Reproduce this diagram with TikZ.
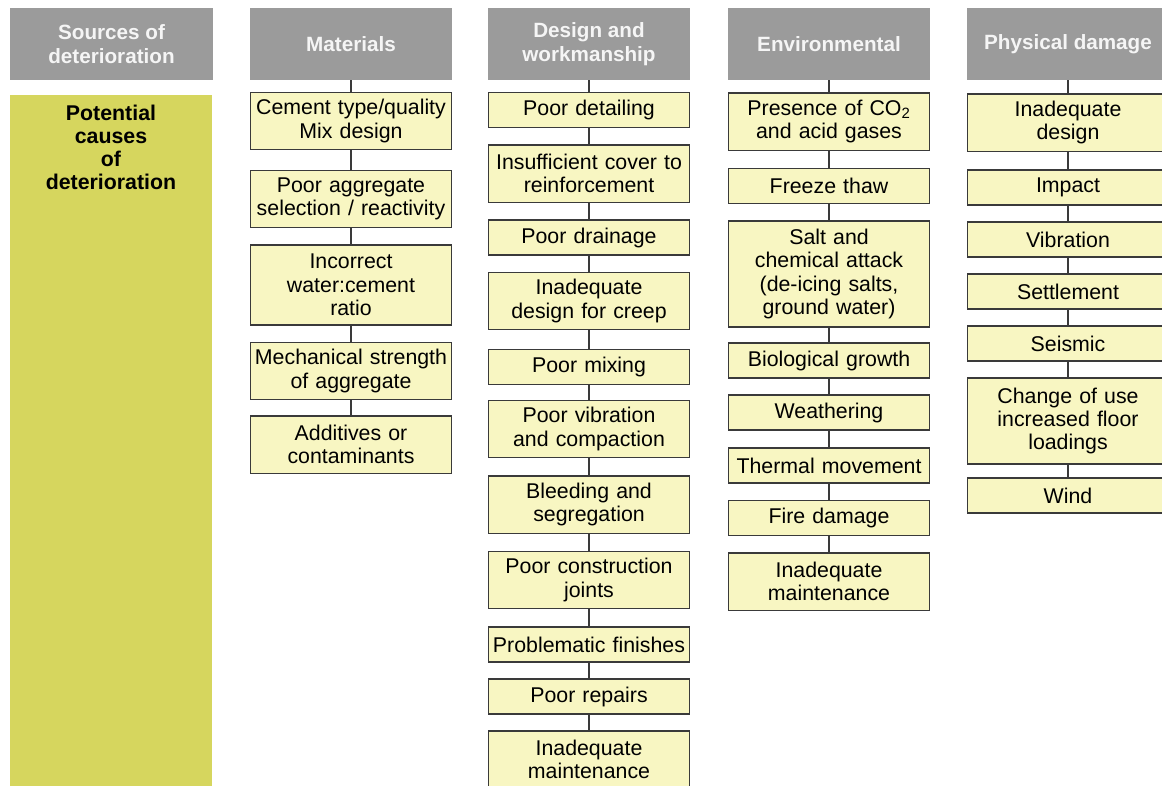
\documentclass[tikz,border=0pt]{standalone}
\usepackage{fontspec}
\setmainfont{Liberation Sans}

\definecolor{headgray}{HTML}{9B9B9B}
\definecolor{panelyellow}{HTML}{D6D65E}
\definecolor{boxyellow}{HTML}{F8F6C2}
\definecolor{edgegray}{HTML}{3A3A3A}

\tikzset{
	srchead/.style={fill=headgray, text=white!96!black, align=center,
		font=\fontsize{15.5}{18.5}\selectfont\bfseries,
		minimum width=152pt, minimum height=54pt, inner sep=0pt},
	causebox/.style={draw=edgegray, line width=1pt, fill=boxyellow, align=center,
		text width=151pt, inner xsep=0pt, inner ysep=0pt, minimum height=26.25pt},
	tallbox/.style={causebox, minimum height=43pt},
	panel/.style={fill=panelyellow, minimum width=152pt, minimum height=522pt, inner sep=0pt},
	link/.style={draw=edgegray, line width=1pt},
}

\begin{document}
\begin{tikzpicture}[x=0.75pt, y=-0.75pt, font=\fontsize{16}{17.5}\selectfont]%[show background grid]

	\useasboundingbox (0,0) rectangle (1162,785);
	\clip (0,0) rectangle (1162,785);

	% headings
	\node[srchead] (hsrc) at (111.5,44) {Sources of\\deterioration};
	\node[srchead] (hmat) at (351,44) {Materials};
	\node[srchead] (hdes) at (589,44) {Design and\\workmanship};
	\node[srchead] (henv) at (829,44) {Environmental};
	\node[srchead] (hphy) at (1068,44) {Physical damage};

	\node[panel] (panel) at (111,443) {};
	\node[font=\fontsize{16}{17.25}\selectfont\bfseries, align=center, anchor=north]
		(potential) at ([yshift=-4pt]panel.north) {Potential\\causes\\of\\deterioration};

	% materials
	\node[tallbox] (mat1) at (351,121) {Cement type/quality\\Mix design};
	\node[tallbox] (mat2) at (351,199) {Poor aggregate\\selection / reactivity};
	\node[causebox, minimum height=60pt] (mat3) at (351,285) {Incorrect\\water:cement\\ratio};
	\node[tallbox] (mat4) at (351,371) {Mechanical strength\\of aggregate};
	\node[tallbox] (mat5) at (351,444.5) {Additives or\\contaminants};

	% design and workmanship
	\node[causebox] (des1) at (589,110) {Poor detailing};
	\node[tallbox] (des2) at (589,173.5) {Insufficient cover to\\reinforcement};
	\node[causebox] (des3) at (589,237.5) {Poor drainage};
	\node[tallbox] (des4) at (589,301) {Inadequate\\design for creep};
	\node[causebox] (des5) at (589,367) {Poor mixing};
	\node[tallbox] (des6) at (589,429) {Poor vibration\\and compaction};
	\node[tallbox] (des7) at (589,504.5) {Bleeding and\\segregation};
	\node[tallbox] (des8) at (589,580) {Poor construction\\joints};
	\node[causebox] (des9) at (589,644.5) {Problematic finishes};
	\node[causebox] (des10) at (589,696.5) {Poor repairs};
	\node[tallbox] (des11) at (589,759.5) {Inadequate\\maintenance};

	% environmental
	\node[tallbox] (env1) at (829,121.5) {Presence of CO\textsubscript{2}\\and acid gases};
	\node[causebox] (env2) at (829,186) {Freeze thaw};
	\node[causebox, minimum height=79.5pt] (env3) at (829,274) {Salt and\\chemical attack\\(de-icing salts,\\ground water)};
	\node[causebox] (env4) at (829,360.5) {Biological growth};
	\node[causebox] (env5) at (829,412.5) {Weathering};
	\node[causebox] (env6) at (829,465.5) {Thermal movement};
	\node[causebox] (env7) at (829,518) {Fire damage};
	\node[tallbox] (env8) at (829,581.5) {Inadequate\\maintenance};

	% physical damage
	\node[tallbox] (phy1) at (1068,122.5) {Inadequate\\design};
	\node[causebox] (phy2) at (1068,187.5) {Impact};
	\node[causebox] (phy3) at (1068,239.5) {Vibration};
	\node[causebox] (phy4) at (1068,291.5) {Settlement};
	\node[causebox] (phy5) at (1068,343.5) {Seismic};
	\node[causebox, minimum height=64.5pt] (phy6) at (1068,421) {Change of use\\increased floor\\loadings};
	\node[causebox] (phy7) at (1068,495.5) {Wind};

	\draw[link] (hmat) -- (mat1) -- (mat2) -- (mat3) -- (mat4) -- (mat5);
	\draw[link] (hdes) -- (des1) -- (des2) -- (des3) -- (des4) -- (des5) -- (des6);
	\draw[link] (des6) -- (des7) -- (des8) -- (des9) -- (des10) -- (des11);
	\draw[link] (henv) -- (env1) -- (env2) -- (env3) -- (env4) -- (env5);
	\draw[link] (env5) -- (env6) -- (env7) -- (env8);
	\draw[link] (hphy) -- (phy1) -- (phy2) -- (phy3) -- (phy4) -- (phy5) -- (phy6) -- (phy7);

\end{tikzpicture}
\end{document}
